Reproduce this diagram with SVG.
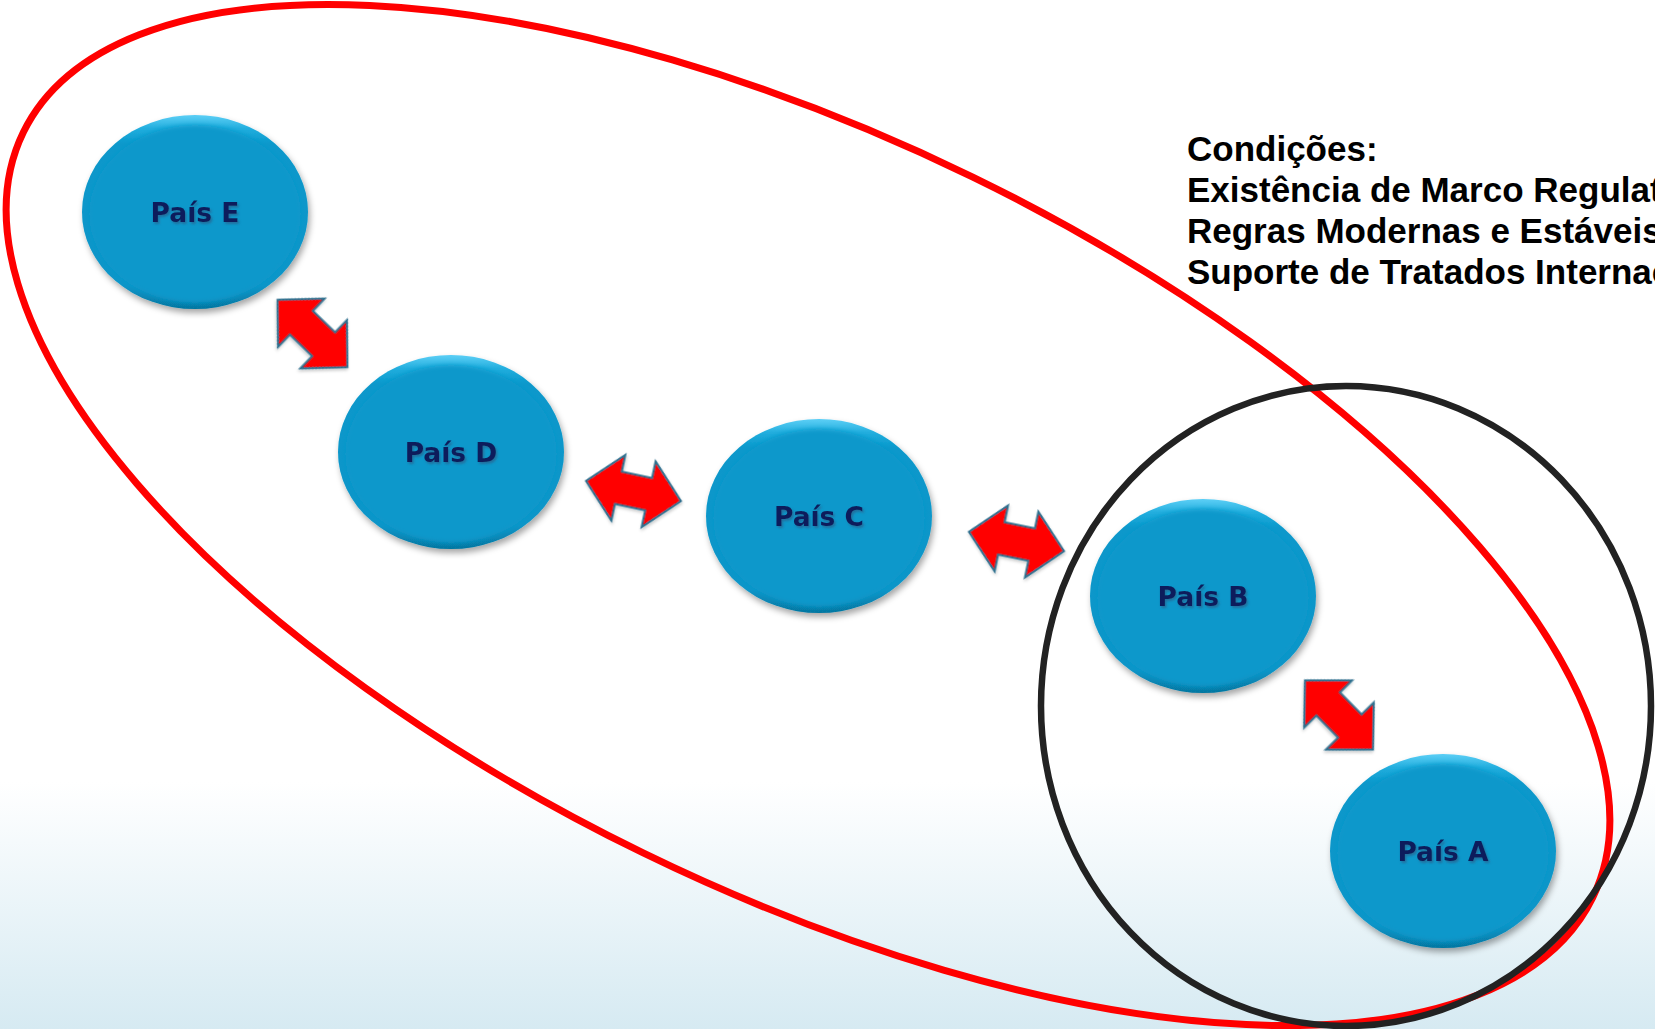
<svg xmlns="http://www.w3.org/2000/svg" width="1655" height="1029" viewBox="0 0 1655 1029">
  <defs>
    <linearGradient id="bg" x1="0" y1="0" x2="0" y2="1029" gradientUnits="userSpaceOnUse">
      <stop offset="0" stop-color="#ffffff"/>
      <stop offset="0.76" stop-color="#ffffff"/>
      <stop offset="1" stop-color="#d6eaf2"/>
    </linearGradient>
    <linearGradient id="rim" x1="0" y1="0" x2="0" y2="1">
      <stop offset="0" stop-color="#5ccff6"/>
      <stop offset="0.07" stop-color="#22aede"/>
      <stop offset="0.15" stop-color="#0898cb"/>
      <stop offset="0.88" stop-color="#0895c8"/>
      <stop offset="1" stop-color="#0676a0"/>
    </linearGradient>
    <filter id="nodeShadow" x="-20%" y="-20%" width="140%" height="150%">
      <feDropShadow dx="2" dy="4" stdDeviation="3" flood-color="#000000" flood-opacity="0.35"/>
    </filter>
    <filter id="soft" x="-10%" y="-10%" width="120%" height="120%">
      <feGaussianBlur stdDeviation="2.5"/>
    </filter>
    <filter id="textShadow" x="-10%" y="-30%" width="120%" height="160%">
      <feDropShadow dx="1.5" dy="2" stdDeviation="1" flood-color="#2a5f8a" flood-opacity="0.7"/>
    </filter>
    <filter id="arrowShadow" x="-20%" y="-20%" width="140%" height="140%">
      <feDropShadow dx="1" dy="2" stdDeviation="1.5" flood-color="#000000" flood-opacity="0.2"/>
    </filter>
    <path id="dblArrow" d="M -48.5 0 L -15.5 -33.5 L -15.5 -16.5 L 15.5 -16.5 L 15.5 -33.5 L 48.5 0 L 15.5 33.5 L 15.5 16.5 L -15.5 16.5 L -15.5 33.5 Z"/>
  </defs>
  <style>
    .outer { fill: url(#rim); filter: url(#nodeShadow); }
    .inner { fill: #0898cb; filter: url(#soft); }
    .label { font-family: "DejaVu Sans", Verdana, sans-serif; font-weight: bold; font-size: 26.5px; fill: #0a1f5c; text-anchor: middle; filter: url(#textShadow); }
    .arrow { fill: #ff0000; stroke: #2f6f8e; stroke-width: 2; stroke-linejoin: miter; filter: url(#arrowShadow); }
    .cond { font-family: "Liberation Sans", Arial, sans-serif; font-weight: bold; font-size: 35px; fill: #000000; }
  </style>

  <rect x="0" y="0" width="1655" height="1029" fill="url(#bg)"/>

  <g id="groups">
    <ellipse id="red-ellipse" cx="808" cy="515" rx="873" ry="376" transform="rotate(26 808 515)" fill="none" stroke="#ff0000" stroke-width="7"/>
    <ellipse id="black-circle" cx="1346" cy="706" rx="305" ry="320" fill="none" stroke="#222222" stroke-width="6.5"/>
  </g>

  <g id="connectors">
    <use href="#dblArrow" class="arrow" transform="translate(312.5 333.5) rotate(44)"/>
    <use href="#dblArrow" class="arrow" transform="translate(633.5 491) rotate(12)"/>
    <use href="#dblArrow" class="arrow" transform="translate(1016.5 541.5) rotate(11.5)"/>
    <use href="#dblArrow" class="arrow" transform="translate(1339 715) rotate(45.5)"/>
  </g>

  <g id="node-E">
    <ellipse class="outer" cx="195" cy="212" rx="113" ry="97"/>
    <ellipse class="inner" cx="195" cy="214" rx="106" ry="89"/>
    <text class="label" x="195" y="221.5">País E</text>
  </g>
  <g id="node-D">
    <ellipse class="outer" cx="451" cy="452" rx="113" ry="97"/>
    <ellipse class="inner" cx="451" cy="454" rx="106" ry="89"/>
    <text class="label" x="451" y="461.5">País D</text>
  </g>
  <g id="node-C">
    <ellipse class="outer" cx="819" cy="516" rx="113" ry="97"/>
    <ellipse class="inner" cx="819" cy="518" rx="106" ry="89"/>
    <text class="label" x="819" y="525.5">País C</text>
  </g>
  <g id="node-B">
    <ellipse class="outer" cx="1203" cy="596" rx="113" ry="97"/>
    <ellipse class="inner" cx="1203" cy="598" rx="106" ry="89"/>
    <text class="label" x="1203" y="605.5">País B</text>
  </g>
  <g id="node-A">
    <ellipse class="outer" cx="1443" cy="851" rx="113" ry="97"/>
    <ellipse class="inner" cx="1443" cy="853" rx="106" ry="89"/>
    <text class="label" x="1443" y="860.5">País A</text>
  </g>

  <g id="conditions">
    <text class="cond" x="1187" y="161">Condições:</text>
    <text class="cond" x="1187" y="202">Existência de Marco Regulat</text>
    <text class="cond" x="1187" y="243">Regras Modernas e Estáveis</text>
    <text class="cond" x="1187" y="284">Suporte de Tratados Internac</text>
  </g>
</svg>
